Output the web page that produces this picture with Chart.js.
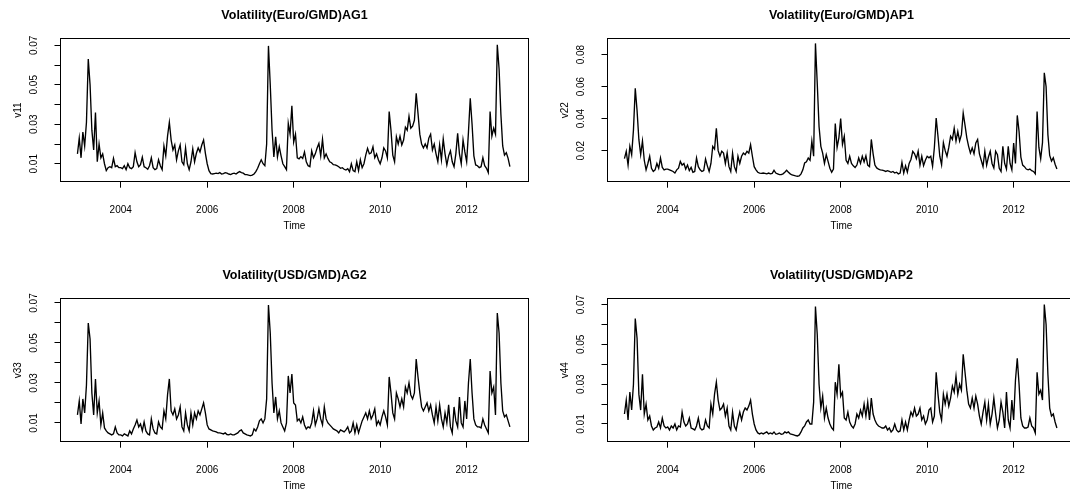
<!DOCTYPE html>
<html>
<head>
<meta charset="utf-8">
<title>Volatility</title>
<script src="https://cdn.jsdelivr.net/npm/chart.js@4.4.1/dist/chart.umd.min.js"></script>
<style>
  html, body { margin: 0; padding: 0; background: #fff; width: 1070px; height: 496px; overflow: hidden; }
  .panel { position: absolute; width: 547px; height: 260px; }
</style>
</head>
<body>
<div class="panel" style="left:0;top:0"><canvas id="v11" width="547" height="260"></canvas></div>
<div class="panel" style="left:547px;top:0"><canvas id="v22" width="547" height="260"></canvas></div>
<div class="panel" style="left:0;top:260px"><canvas id="v33" width="547" height="260"></canvas></div>
<div class="panel" style="left:547px;top:260px"><canvas id="v44" width="547" height="260"></canvas></div>
<script>
// time series: start 2003, 24 obs per year (half-monthly)
const tsStart = 2003;
const tsFreq = 24;

const yearTicks = [2004, 2006, 2008, 2010, 2012];
const yearLabels = ['2004', '2006', '2008', '2010', '2012'];

const ticks7 = [0.01, 0.02, 0.03, 0.04, 0.05, 0.06, 0.07];
const labels7 = ['0.01', '', '0.03', '', '0.05', '', '0.07'];
const ticks8 = [0.02, 0.04, 0.06, 0.08];
const labels8 = ['0.02', '0.04', '0.06', '0.08'];

const v11 = [
  0.015, 0.023, 0.013, 0.026, 0.019, 0.031, 0.063, 0.050, 0.027, 0.017, 0.036, 0.011, 0.020, 0.013, 0.015, 0.010, 0.0065, 0.008, 0.0085, 0.008, 0.0127, 0.0085, 0.009, 0.008,
  0.008, 0.0075, 0.009, 0.007, 0.010, 0.008, 0.0075, 0.0085, 0.0156, 0.011, 0.0085, 0.0095, 0.0133, 0.0085, 0.008, 0.0072, 0.009, 0.013, 0.008, 0.007, 0.0075, 0.012, 0.009, 0.007,
  0.019, 0.014, 0.024, 0.031, 0.022, 0.017, 0.0195, 0.012, 0.0165, 0.0195, 0.011, 0.0095, 0.018, 0.010, 0.007, 0.011, 0.0175, 0.011, 0.0153, 0.018, 0.016, 0.0195, 0.022, 0.0153,
  0.010, 0.0065, 0.005, 0.0048, 0.005, 0.0052, 0.005, 0.0055, 0.0048, 0.005, 0.0055, 0.0052, 0.0048, 0.0045, 0.005, 0.0052, 0.0048, 0.0055, 0.006, 0.0055, 0.0052, 0.0045, 0.0045, 0.0042,
  0.004, 0.0042, 0.0048, 0.006, 0.0077, 0.010, 0.012, 0.010, 0.009, 0.020, 0.0697, 0.050, 0.027, 0.0135, 0.0237, 0.0135, 0.0186, 0.014, 0.010, 0.0085, 0.007, 0.0305, 0.025, 0.0393,
  0.021, 0.025, 0.013, 0.0125, 0.0136, 0.0127, 0.016, 0.011, 0.009, 0.0085, 0.0165, 0.013, 0.015, 0.018, 0.0203, 0.014, 0.0224, 0.013, 0.015, 0.0127, 0.011, 0.0105, 0.0095, 0.0094,
  0.009, 0.0085, 0.0077, 0.008, 0.0072, 0.0068, 0.0075, 0.006, 0.010, 0.0065, 0.006, 0.011, 0.0065, 0.012, 0.008, 0.010, 0.0144, 0.0178, 0.015, 0.0155, 0.0186, 0.013, 0.015, 0.012,
  0.010, 0.013, 0.018, 0.0165, 0.013, 0.0364, 0.027, 0.0144, 0.011, 0.0237, 0.020, 0.024, 0.0195, 0.022, 0.0285, 0.027, 0.034, 0.028, 0.029, 0.032, 0.0457, 0.0355, 0.025, 0.020,
  0.018, 0.020, 0.018, 0.023, 0.025, 0.017, 0.020, 0.015, 0.011, 0.0195, 0.012, 0.0225, 0.015, 0.0094, 0.014, 0.0165, 0.011, 0.0085, 0.015, 0.0254, 0.015, 0.010, 0.022, 0.016,
  0.011, 0.026, 0.0432, 0.030, 0.014, 0.0094, 0.009, 0.008, 0.0085, 0.013, 0.009, 0.0077, 0.0055, 0.0364, 0.024, 0.028, 0.025, 0.0703, 0.058, 0.035, 0.019, 0.0144, 0.0156, 0.0127,
  0.0085
];

const v22 = [
  0.015, 0.0195, 0.011, 0.0227, 0.0175, 0.033, 0.059, 0.045, 0.027, 0.0175, 0.026, 0.014, 0.008, 0.012, 0.0165, 0.009, 0.007, 0.008, 0.012, 0.009, 0.0154, 0.0095, 0.008, 0.0085,
  0.0085, 0.008, 0.0075, 0.007, 0.006, 0.008, 0.009, 0.0133, 0.011, 0.012, 0.0085, 0.011, 0.0075, 0.0095, 0.0065, 0.007, 0.0154, 0.010, 0.008, 0.007, 0.0075, 0.0148, 0.0105, 0.007,
  0.012, 0.0227, 0.021, 0.034, 0.020, 0.0165, 0.0196, 0.0185, 0.012, 0.0185, 0.010, 0.007, 0.0185, 0.010, 0.007, 0.0165, 0.012, 0.0165, 0.0185, 0.0175, 0.0196, 0.0185, 0.0237, 0.0165,
  0.010, 0.008, 0.0065, 0.006, 0.0058, 0.006, 0.0058, 0.0055, 0.006, 0.0055, 0.0058, 0.0077, 0.006, 0.0055, 0.005, 0.005, 0.0055, 0.0065, 0.0077, 0.0065, 0.0055, 0.0048, 0.0045, 0.0042,
  0.004, 0.0042, 0.0055, 0.008, 0.0123, 0.013, 0.0154, 0.014, 0.026, 0.0165, 0.087, 0.062, 0.035, 0.0227, 0.0185, 0.012, 0.0175, 0.0133, 0.009, 0.0065, 0.0085, 0.037, 0.022, 0.028,
  0.040, 0.024, 0.029, 0.014, 0.012, 0.0165, 0.012, 0.0105, 0.0095, 0.011, 0.0154, 0.012, 0.0165, 0.013, 0.0168, 0.011, 0.010, 0.027, 0.018, 0.011, 0.0092, 0.0085, 0.008, 0.0078,
  0.0075, 0.007, 0.0075, 0.007, 0.0065, 0.007, 0.006, 0.0065, 0.0055, 0.006, 0.0127, 0.006, 0.0105, 0.0065, 0.012, 0.0145, 0.0196, 0.018, 0.015, 0.0196, 0.011, 0.0165, 0.0106, 0.014,
  0.0165, 0.0155, 0.0165, 0.0102, 0.022, 0.0404, 0.029, 0.0165, 0.0112, 0.025, 0.020, 0.0165, 0.022, 0.029, 0.027, 0.034, 0.026, 0.032, 0.026, 0.030, 0.0435, 0.036, 0.028, 0.0227,
  0.0185, 0.0217, 0.018, 0.0248, 0.027, 0.018, 0.014, 0.010, 0.0196, 0.011, 0.016, 0.0196, 0.012, 0.0092, 0.0196, 0.0175, 0.009, 0.007, 0.0227, 0.012, 0.0085, 0.0227, 0.012, 0.008,
  0.0248, 0.012, 0.042, 0.032, 0.016, 0.011, 0.010, 0.0085, 0.008, 0.0085, 0.0075, 0.007, 0.0055, 0.0445, 0.022, 0.015, 0.025, 0.0686, 0.060, 0.030, 0.017, 0.0135, 0.0155, 0.0115,
  0.0085
];

const v33 = [
  0.014, 0.021, 0.0095, 0.022, 0.015, 0.029, 0.060, 0.052, 0.025, 0.014, 0.032, 0.015, 0.021, 0.009, 0.015, 0.0075, 0.006, 0.005, 0.0045, 0.004, 0.0045, 0.008, 0.005, 0.004,
  0.004, 0.0035, 0.0045, 0.004, 0.0035, 0.006, 0.0045, 0.007, 0.009, 0.0115, 0.008, 0.0095, 0.006, 0.0105, 0.006, 0.0045, 0.004, 0.012, 0.007, 0.005, 0.0045, 0.0105, 0.008, 0.007,
  0.016, 0.012, 0.024, 0.032, 0.016, 0.014, 0.017, 0.012, 0.014, 0.018, 0.008, 0.006, 0.015, 0.009, 0.006, 0.015, 0.009, 0.015, 0.012, 0.016, 0.014, 0.017, 0.020, 0.015,
  0.009, 0.007, 0.0065, 0.006, 0.0058, 0.0055, 0.005, 0.005, 0.0048, 0.0045, 0.005, 0.0042, 0.004, 0.0045, 0.004, 0.004, 0.0045, 0.005, 0.006, 0.0065, 0.005, 0.0045, 0.004, 0.0038,
  0.0035, 0.004, 0.007, 0.006, 0.008, 0.011, 0.012, 0.010, 0.012, 0.022, 0.069, 0.055, 0.030, 0.015, 0.023, 0.012, 0.016, 0.010, 0.008, 0.006, 0.010, 0.0335, 0.025, 0.0345,
  0.020, 0.019, 0.011, 0.012, 0.010, 0.013, 0.009, 0.007, 0.008, 0.0075, 0.010, 0.016, 0.009, 0.012, 0.017, 0.012, 0.009, 0.018, 0.012, 0.010, 0.009, 0.008, 0.007, 0.0065,
  0.006, 0.005, 0.0065, 0.006, 0.0055, 0.0065, 0.008, 0.005, 0.006, 0.010, 0.005, 0.009, 0.005, 0.008, 0.011, 0.013, 0.015, 0.012, 0.016, 0.012, 0.014, 0.017, 0.009, 0.011,
  0.009, 0.013, 0.016, 0.013, 0.009, 0.033, 0.025, 0.015, 0.012, 0.025, 0.022, 0.018, 0.022, 0.018, 0.028, 0.025, 0.030, 0.024, 0.022, 0.025, 0.042, 0.033, 0.025, 0.018,
  0.016, 0.018, 0.020, 0.016, 0.019, 0.014, 0.010, 0.018, 0.011, 0.019, 0.012, 0.008, 0.015, 0.010, 0.019, 0.008, 0.005, 0.018, 0.011, 0.008, 0.023, 0.010, 0.008, 0.021,
  0.012, 0.030, 0.042, 0.025, 0.012, 0.009, 0.008, 0.008, 0.0075, 0.012, 0.009, 0.007, 0.005, 0.036, 0.025, 0.028, 0.014, 0.065, 0.055, 0.030, 0.016, 0.013, 0.014, 0.011,
  0.008
];

const v44 = [
  0.015, 0.022, 0.012, 0.026, 0.017, 0.030, 0.063, 0.053, 0.025, 0.017, 0.035, 0.015, 0.020, 0.012, 0.014, 0.009, 0.007, 0.008, 0.0085, 0.011, 0.008, 0.013, 0.009, 0.008,
  0.0085, 0.007, 0.009, 0.008, 0.010, 0.007, 0.009, 0.0085, 0.016, 0.011, 0.009, 0.010, 0.013, 0.008, 0.0075, 0.007, 0.009, 0.013, 0.008, 0.007, 0.0075, 0.012, 0.009, 0.008,
  0.020, 0.015, 0.025, 0.031, 0.022, 0.017, 0.018, 0.020, 0.014, 0.018, 0.009, 0.007, 0.016, 0.009, 0.007, 0.012, 0.016, 0.012, 0.016, 0.018, 0.017, 0.019, 0.022, 0.015,
  0.010, 0.007, 0.0055, 0.005, 0.0055, 0.005, 0.0055, 0.006, 0.005, 0.0055, 0.005, 0.006, 0.0048, 0.005, 0.0055, 0.0048, 0.005, 0.006, 0.0055, 0.006, 0.005, 0.0048, 0.0045, 0.0042,
  0.004, 0.0045, 0.006, 0.008, 0.009, 0.011, 0.012, 0.010, 0.010, 0.021, 0.069, 0.055, 0.030, 0.018, 0.024, 0.013, 0.018, 0.013, 0.010, 0.008, 0.007, 0.031, 0.025, 0.040,
  0.024, 0.026, 0.013, 0.012, 0.016, 0.011, 0.009, 0.008, 0.010, 0.015, 0.013, 0.017, 0.014, 0.020, 0.014, 0.021, 0.012, 0.023, 0.015, 0.012, 0.010, 0.009, 0.0085, 0.008,
  0.008, 0.009, 0.007, 0.008, 0.006, 0.007, 0.010, 0.007, 0.006, 0.0065, 0.012, 0.007, 0.011, 0.007, 0.012, 0.016, 0.014, 0.018, 0.014, 0.015, 0.018, 0.012, 0.014, 0.010,
  0.012, 0.017, 0.018, 0.011, 0.014, 0.036, 0.025, 0.016, 0.012, 0.025, 0.020, 0.025, 0.019, 0.023, 0.029, 0.026, 0.034, 0.025, 0.030, 0.027, 0.045, 0.036, 0.027, 0.020,
  0.018, 0.023, 0.018, 0.024, 0.020, 0.014, 0.010, 0.016, 0.021, 0.012, 0.020, 0.010, 0.015, 0.023, 0.015, 0.008, 0.012, 0.021, 0.016, 0.008, 0.026, 0.012, 0.008, 0.022,
  0.012, 0.032, 0.043, 0.030, 0.013, 0.009, 0.008, 0.008, 0.0085, 0.013, 0.009, 0.008, 0.0055, 0.036, 0.025, 0.027, 0.022, 0.070, 0.060, 0.035, 0.018, 0.014, 0.015, 0.011,
  0.008
];

const FONT = "'Liberation Sans', Arial, Helvetica, sans-serif";
Chart.defaults.font.family = FONT;
Chart.defaults.color = '#000';

// box around the plot region, like R's bty = "o"
const frame = {
  id: 'frame',
  afterDraw(chart) {
    const { ctx, chartArea: a } = chart;
    const px = v => Math.floor(v) + 0.5;
    ctx.save();
    ctx.strokeStyle = '#000';
    ctx.lineWidth = 1;
    ctx.strokeRect(px(a.left), px(a.top), px(a.right) - px(a.left), px(a.bottom) - px(a.top));
    ctx.restore();
  }
};

function drawPanel(id, title, yName, values, yMin, yMax, yTicks, yLabels) {
  const points = values.map((v, i) => ({ x: tsStart + i / tsFreq, y: v }));
  const tickFont = { family: FONT, size: 10 };

  new Chart(document.getElementById(id), {
    type: 'line',
    data: {
      datasets: [{
        data: points,
        borderColor: '#000',
        borderWidth: 1.35,
        pointRadius: 0,
        tension: 0,
        fill: false
      }]
    },
    options: {
      responsive: false,
      animation: false,
      events: [],
      layout: { padding: { left: 0, right: 18.5, top: 0, bottom: 0 } },
      plugins: {
        legend: { display: false },
        tooltip: { enabled: false },
        title: {
          display: true,
          text: title,
          fullSize: false,
          color: '#000',
          font: { family: FONT, size: 12.5, weight: 'bold' },
          padding: { top: 7.7, bottom: 15.9 }
        }
      },
      scales: {
        x: {
          type: 'linear',
          min: 2002.608,
          max: 2013.43,
          afterBuildTicks: s => { s.ticks = yearTicks.map(v => ({ value: v })); },
          afterFit: s => { s.height = 78.3; },
          grid: { drawOnChartArea: false, tickLength: 6, color: '#000' },
          border: { display: false },
          ticks: {
            autoSkip: false,
            maxRotation: 0,
            padding: 16.3,
            font: tickFont,
            callback: (v, i) => yearLabels[i]
          },
          title: { display: true, text: 'Time', font: tickFont, padding: { top: 0, bottom: 27.5 } }
        },
        y: {
          min: yMin,
          max: yMax,
          afterBuildTicks: s => { s.ticks = yTicks.map(v => ({ value: v })); },
          afterFit: s => { s.width = 60.5; },
          grid: { drawOnChartArea: false, tickLength: 6, color: '#000' },
          border: { display: false },
          ticks: {
            autoSkip: false,
            minRotation: 90,
            maxRotation: 90,
            crossAlign: 'center',
            padding: 10.5,
            font: tickFont,
            callback: (v, i) => yLabels[i]
          },
          title: { display: true, text: yName, font: tickFont, padding: { top: 12, bottom: 0 } }
        }
      }
    },
    plugins: [frame]
  });
}

drawPanel('v11', 'Volatility(Euro/GMD)AG1', 'v11', v11, 0.0009, 0.0734, ticks7, labels7);
drawPanel('v22', 'Volatility(Euro/GMD)AP1', 'v22', v22, 0.0006, 0.0900, ticks8, labels8);
drawPanel('v33', 'Volatility(USD/GMD)AG2', 'v33', v33, 0.0006, 0.0722, ticks7, labels7);
drawPanel('v44', 'Volatility(USD/GMD)AP2', 'v44', v44, 0.0011, 0.0730, ticks7, labels7);
</script>
</body>
</html>
